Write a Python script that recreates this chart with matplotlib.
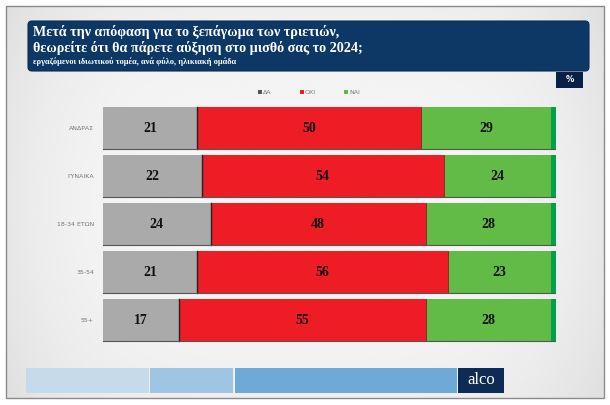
import numpy as np
import matplotlib.pyplot as plt
from matplotlib.patches import Rectangle, FancyBboxPatch

# data
groups = ['ΑΝΔΡΑΣ', 'ΓΥΝΑΙΚΑ', '18-34 ΕΤΩΝ', '35-54', '55+']
series = ['ΔΑ', 'ΟΧΙ', 'ΝΑΙ']
da = [21, 22, 24, 21, 17]
oxi = [50, 54, 48, 56, 55]
nai = [29, 24, 28, 23, 28]
colors = ['#aaaaaa', '#ee1c25', '#62bb47']

title1 = 'Μετά την απόφαση για το ξεπάγωμα των τριετιών,'
title2 = 'θεωρείτε ότι θα πάρετε αύξηση στο μισθό σας το 2024;'
subtitle = 'εργαζόμενοι ιδιωτικού τομέα, ανά φύλο, ηλικιακή ομάδα'

W, H = 610, 405
fig = plt.figure(figsize=(W / 100, H / 100), dpi=100)


def px(x0, y0, w, h):
    # pixel box (top-left origin) -> figure fraction rect
    return [x0 / W, 1 - (y0 + h) / H, w / W, h / H]


# background
bg = fig.add_axes([0, 0, 1, 1])
bg.set_xlim(0, W)
bg.set_ylim(H, 0)
bg.axis('off')
xx = np.linspace(-1, 1, 300)
yy = np.linspace(-1, 1, 200)
gx, gy = np.meshgrid(xx, yy)
grad = 0.965 - 0.06 * (gx ** 4) - 0.03 * (gy ** 2)
bg.imshow(grad, cmap='gray', vmin=0, vmax=1, extent=[6, 604, 398, 6], aspect='auto', zorder=0)
bg.add_patch(Rectangle((6, 6), 598, 392, fill=False, edgecolor='#8a8a8a', lw=1.0, zorder=1))

# title box
bg.add_patch(FancyBboxPatch((28, 21), 561, 50, boxstyle='round,pad=0,rounding_size=4',
                            facecolor='#0d3866', edgecolor='#0a2c52', lw=0.8, zorder=2))
bg.text(33, 32, title1, color='white', fontsize=10.2, fontweight='bold', family='Liberation Serif',
        va='center', zorder=3)
bg.text(33, 48, title2, color='white', fontsize=10.2, fontweight='bold', family='Liberation Serif',
        va='center', zorder=3)
bg.text(33, 62, subtitle, color='white', fontsize=6, fontweight='bold', family='Liberation Serif',
        va='center', zorder=3)

# percent box
bg.add_patch(Rectangle((556, 72), 27, 16, facecolor='#0a1f45', zorder=2))
bg.text(569.5, 80, '%', color='white', fontsize=6, fontweight='bold', ha='center', va='center', zorder=3)

# bottom band + logo
bg.add_patch(Rectangle((26, 368), 123, 25, facecolor='#c4dbee', zorder=2))
bg.add_patch(Rectangle((150, 368), 83, 25, facecolor='#9fc5e5', zorder=2))
bg.add_patch(Rectangle((235, 368), 222, 25, facecolor='#6ea9d7', zorder=2))
bg.add_patch(Rectangle((458, 368), 46, 25, facecolor='#0d2c55', zorder=2))
bg.text(481, 380, 'alco', color='white', fontsize=12, family='Liberation Serif', ha='center', va='center',
        zorder=3)

# legend
lx = [258, 300, 344]
for name, c, x in zip(series, colors, lx):
    bg.add_patch(Rectangle((x, 90), 3.5, 3.5, facecolor='#555555' if name == 'ΔΑ' else c, zorder=3))
    bg.text(x + 5, 92, name, fontsize=4.5, color='#777777', va='center', zorder=3)

# bars
ax = fig.add_axes(px(103, 104, 453, 240))
ax.set_xlim(0, 101.1)
ax.set_ylim(4.5, -0.5)
ax.axis('off')
y = np.arange(len(groups))
h = 0.855
lefts = np.zeros(len(groups))
for vals, c in zip([da, oxi, nai], colors):
    ax.barh(y, vals, left=lefts, height=h, color=c, edgecolor='none', zorder=2)
    for yi, l, v in zip(y, lefts, vals):
        ax.text(l + v / 2, yi, str(v), ha='center', va='center', fontsize=10, fontweight='bold',
                family='Liberation Serif', color='#111111', zorder=4)
    lefts = lefts + np.array(vals)
ax.barh(y, 1.1, left=lefts, height=h, color='#00a14b', edgecolor='none', zorder=2)

# segment dividers and bottom edges
for yi, a, b in zip(y, da, oxi):
    ax.plot([a, a], [yi - h / 2, yi + h / 2], color='#222222', lw=1.0, zorder=3)
    ax.plot([a + b, a + b], [yi - h / 2, yi + h / 2], color='#8a1a1a', lw=0.6, zorder=3)
    ax.plot([0, 101.1], [yi + h / 2, yi + h / 2], color='#555555', lw=0.8, zorder=3)

# white strips between rows
for yi in y[:-1]:
    ax.add_patch(Rectangle((0, yi + 0.56), 101.1, 0.11, facecolor='white', edgecolor='#bbbbbb',
                           lw=0.6, zorder=1))

# group labels
for yi, g in zip(y, groups):
    ax.text(-2, yi, g, ha='right', va='center', fontsize=4.5, color='#777777')

fig.savefig('out.png', dpi=100)
